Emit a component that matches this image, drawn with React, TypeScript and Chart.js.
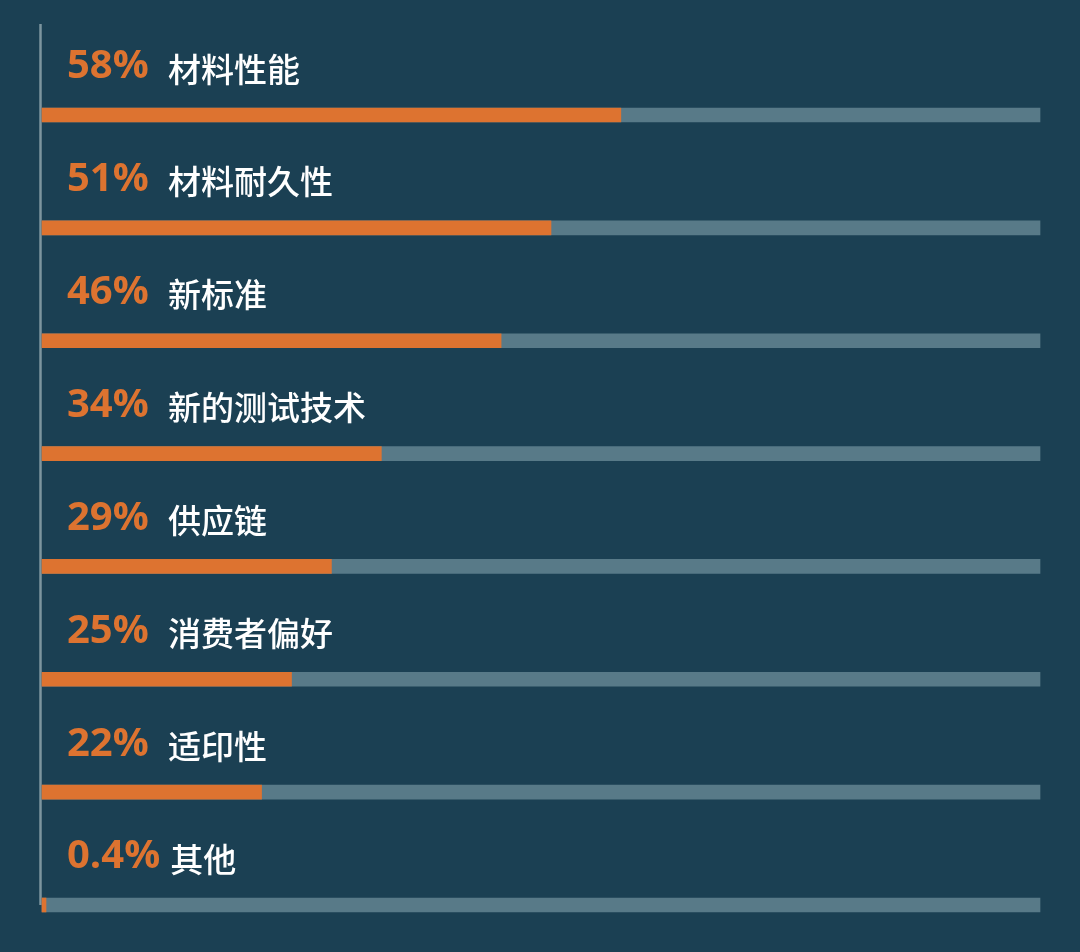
import React, { useEffect, useRef } from "react";
import { Chart, registerables } from "chart.js";

Chart.register(...registerables);

const categories = ["材料性能", "材料耐久性", "新标准", "新的测试技术", "供应链", "消费者偏好", "适印性", "其他"];
const values = [58, 51, 46, 34, 29, 25, 22, 0.4];
const trackValues = [100, 100, 100, 100, 100, 100, 100, 100];

const BG = "#1b4053";
const ORANGE = "#dd7330";
const TRACK = "#587a88";
const AXIS = "#7d959e";

export default function App() {
  const ref = useRef<HTMLCanvasElement | null>(null);

  useEffect(() => {
    document.body.style.margin = "0";
    document.body.style.background = BG;
    const canvas = ref.current;
    if (!canvas) return;

    const decor = {
      id: "decor",
      beforeDatasetsDraw(chart: any) {
        const { ctx, chartArea } = chart;
        ctx.save();
        ctx.strokeStyle = AXIS;
        ctx.lineWidth = 2.5;
        ctx.beginPath();
        ctx.moveTo(chartArea.left - 1.5, chartArea.top - 91);
        ctx.lineTo(chartArea.left - 1.5, chartArea.bottom);
        ctx.stroke();
        ctx.restore();
      },
      afterDatasetsDraw(chart: any) {
        const { ctx, chartArea } = chart;
        const yScale = chart.scales.y;
        ctx.save();
        ctx.textBaseline = "middle";
        categories.forEach((name, i) => {
          const y = yScale.getPixelForValue(i) - 48;
          const px = chartArea.left + 25;
          const pct = `${values[i]}%`;
          ctx.font = "700 40px 'Open Sans', sans-serif";
          ctx.fillStyle = ORANGE;
          ctx.fillText(pct, px, y);
          const w = ctx.measureText(pct).width;
          const nx = Math.max(px + 101, px + w + 10);
          ctx.font = "500 33px 'Noto Sans CJK SC', sans-serif";
          ctx.fillStyle = "#ffffff";
          ctx.fillText(name, nx, y + 2);
        });
        ctx.restore();
      },
    };

    const chart = new Chart(canvas, {
      type: "bar",
      data: {
        labels: categories,
        datasets: [
          {
            data: values,
            backgroundColor: ORANGE,
            barThickness: 14,
            grouped: false,
            clip: false,
          } as any,
          {
            data: trackValues,
            backgroundColor: TRACK,
            barThickness: 14,
            grouped: false,
            clip: false,
          } as any,
        ],
      },
      options: {
        indexAxis: "y",
        animation: false,
        responsive: false,
        maintainAspectRatio: false,
        layout: { padding: { top: 115, left: 42, right: 40, bottom: 47 } },
        scales: {
          x: { display: false, min: 0, max: 100 },
          y: { display: false, offset: false },
        },
        plugins: {
          legend: { display: false },
          tooltip: { enabled: false },
        },
      },
      plugins: [decor],
    });
    return () => chart.destroy();
  }, []);

  return (
    <div style={{ width: 1080, height: 952, background: BG }}>
      <canvas ref={ref} width={1080} height={952} style={{ display: "block" }} />
    </div>
  );
}
